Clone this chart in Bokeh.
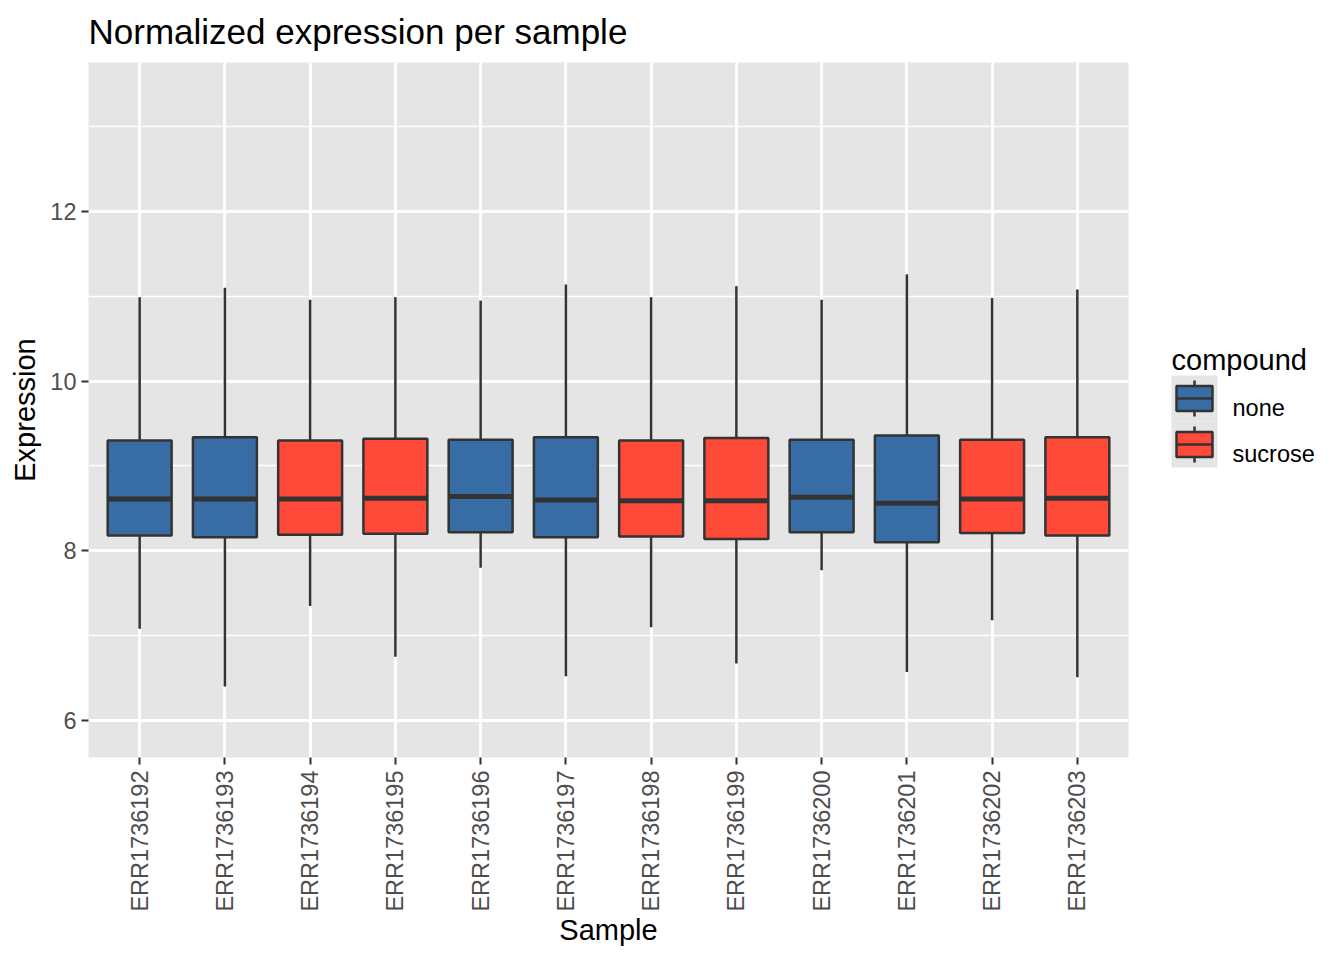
import math
from bokeh.plotting import figure
from bokeh.models import ColumnDataSource, Range1d, FixedTicker
from bokeh.layouts import row
from bokeh.embed import file_html
from bokeh.resources import INLINE

# ---------------- data ----------------
samples = ["ERR1736192", "ERR1736193", "ERR1736194", "ERR1736195",
           "ERR1736196", "ERR1736197", "ERR1736198", "ERR1736199",
           "ERR1736200", "ERR1736201", "ERR1736202", "ERR1736203"]
compound = ["none", "none", "sucrose", "sucrose", "none", "none",
            "sucrose", "sucrose", "none", "none", "sucrose", "sucrose"]
whisker_hi = [10.99, 11.10, 10.96, 10.99, 10.95, 11.14, 10.99, 11.12, 10.96, 11.26, 10.98, 11.08]
q3 = [9.30, 9.34, 9.30, 9.32, 9.31, 9.34, 9.30, 9.33, 9.31, 9.36, 9.31, 9.34]
median = [8.61, 8.61, 8.61, 8.62, 8.64, 8.60, 8.59, 8.59, 8.63, 8.56, 8.61, 8.62]
q1 = [8.18, 8.16, 8.19, 8.20, 8.22, 8.16, 8.17, 8.14, 8.22, 8.10, 8.21, 8.18]
whisker_lo = [7.08, 6.40, 7.35, 6.75, 7.80, 6.52, 7.10, 6.67, 7.77, 6.57, 7.18, 6.51]
y_ticks = [6, 8, 10, 12]
y_minor = [7, 9, 11, 13]
y_limits = (5.563, 13.757)
legend_levels = ["none", "sucrose"]
palette = {"none": "#386CA5", "sucrose": "#FF4A3A"}

FONT = "Liberation Sans"
BOX_W = 0.75
EDGE = "#333333"
PANEL = "#E5E5E5"

# page geometry (px)
FR_L, FR_R, FR_T, FR_B = 88, 1128, 62, 757
FIG_H = 952
MAIN_W = FR_R + 10
LEG_W = 1340 - MAIN_W

xs = list(range(1, len(samples) + 1))
src = ColumnDataSource(dict(
    x=xs,
    left=[x - BOX_W / 2 for x in xs],
    right=[x + BOX_W / 2 for x in xs],
    hi=whisker_hi, q3=q3, med=median, q1=q1, lo=whisker_lo,
    color=[palette[c] for c in compound],
))

# ---------------- main panel ----------------
p = figure(width=MAIN_W, height=FIG_H,
           x_range=Range1d(0.4, len(samples) + 0.6),
           y_range=Range1d(*y_limits),
           output_backend="svg", toolbar_location=None,
           min_border_left=FR_L, min_border_right=MAIN_W - FR_R,
           min_border_top=FR_T, min_border_bottom=FIG_H - FR_B)

p.background_fill_color = PANEL
p.border_fill_color = "white"
p.outline_line_color = None

p.title.text = "Normalized expression per sample"
p.title.text_font = FONT
p.title.text_font_size = "35px"
p.title.text_font_style = "normal"
p.title.text_color = "black"
p.title.align = "left"
p.title.vertical_align = "top"
p.title.standoff = 19

# axes
p.xaxis.ticker = FixedTicker(ticks=xs)
p.xaxis.major_label_overrides = {x: s for x, s in zip(xs, samples)}
p.xaxis.major_label_orientation = math.pi / 2
p.yaxis.ticker = FixedTicker(ticks=y_ticks, minor_ticks=y_minor)

for ax in (p.xaxis, p.yaxis):
    ax.axis_line_color = None
    ax.major_tick_line_color = EDGE
    ax.major_tick_line_width = 2
    ax.major_tick_out = 7
    ax.major_tick_in = 0
    ax.minor_tick_out = 0
    ax.minor_tick_in = 0
    ax.major_label_text_font = FONT
    ax.major_label_text_font_size = "23.5px"
    ax.major_label_text_color = "#4D4D4D"
    ax.axis_label_text_font = FONT
    ax.axis_label_text_font_size = "29px"
    ax.axis_label_text_font_style = "normal"
    ax.axis_label_text_color = "black"

p.xaxis.axis_label = "Sample"
p.yaxis.axis_label = "Expression"
p.xaxis.major_label_standoff = 6
p.yaxis.major_label_standoff = 5
p.xaxis.axis_label_standoff = -1
p.yaxis.axis_label_standoff = 6

p.xgrid.grid_line_color = "white"
p.xgrid.grid_line_width = 2.8
p.ygrid.grid_line_color = "white"
p.ygrid.grid_line_width = 2.8
p.ygrid.minor_grid_line_color = "white"
p.ygrid.minor_grid_line_width = 1.4

# boxplots
p.segment(x0="x", y0="q3", x1="x", y1="hi", source=src,
          line_color=EDGE, line_width=2.5)
p.segment(x0="x", y0="q1", x1="x", y1="lo", source=src,
          line_color=EDGE, line_width=2.5)
p.vbar(x="x", width=BOX_W, top="q3", bottom="q1", source=src,
       fill_color="color", line_color=EDGE, line_width=2.5)
p.segment(x0="left", y0="med", x1="right", y1="med", source=src,
          line_color=EDGE, line_width=5, line_cap="butt")

# ---------------- legend (its own canvas, page-pixel units) ----------------
LEG_DY = 8  # vertical correction of the legend canvas
lf = figure(width=LEG_W, height=FIG_H,
            x_range=Range1d(MAIN_W, MAIN_W + LEG_W),
            y_range=Range1d(FR_B + LEG_DY, FR_T + LEG_DY),
            output_backend="svg", toolbar_location=None,
            x_axis_type=None, y_axis_type=None,
            min_border_left=0, min_border_right=0,
            min_border_top=FR_T, min_border_bottom=FIG_H - FR_B)
lf.grid.visible = False
lf.outline_line_color = None
lf.background_fill_color = "white"
lf.border_fill_color = "white"

key_x0, key_y0, key_size = 1171, 383, 46
box_hw, box_hh, wh_h = 18, 12.5, 18
kx = [key_x0 + key_size / 2] * len(legend_levels)
ky = [key_y0 + key_size * (i + 0.5) for i in range(len(legend_levels))]
ksrc = ColumnDataSource(dict(
    cx=kx, cy=ky,
    kl=[key_x0] * len(ky), kr=[key_x0 + key_size] * len(ky),
    kt=[y - key_size / 2 for y in ky], kb=[y + key_size / 2 for y in ky],
    bl=[x - box_hw for x in kx], br=[x + box_hw for x in kx],
    bt=[y - box_hh for y in ky], bb=[y + box_hh for y in ky],
    wt=[y - wh_h for y in ky], wb=[y + wh_h for y in ky],
    color=[palette[c] for c in legend_levels],
    label=legend_levels,
    lx=[key_x0 + key_size + 15] * len(ky),
    ly=[y + 9.5 for y in ky],
))
lf.quad(left="kl", right="kr", top="kt", bottom="kb", source=ksrc,
        fill_color=PANEL, line_color=None)
lf.segment(x0="cx", y0="wt", x1="cx", y1="wb", source=ksrc,
           line_color=EDGE, line_width=2.5)
lf.quad(left="bl", right="br", top="bt", bottom="bb", source=ksrc,
        fill_color="color", line_color=EDGE, line_width=2.5)
lf.segment(x0="bl", y0="cy", x1="br", y1="cy", source=ksrc,
           line_color=EDGE, line_width=2.5)
lf.text(x="lx", y="ly", text="label", source=ksrc,
        text_font_size="23.5px", text_color="black",
        text_baseline="alphabetic", text_align="left",
        text_font={"value": FONT})
lf.text(x=[key_x0], y=[367], text=["compound"],
        text_font_size="29px", text_color="black",
        text_baseline="alphabetic", text_align="left",
        text_font={"value": FONT})

layout = row(p, lf, spacing=0)
open("out.html", "w").write(file_html(layout, INLINE))
